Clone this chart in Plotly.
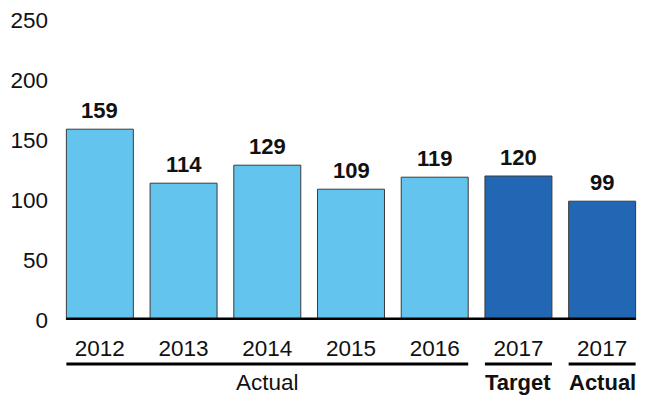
import plotly.graph_objects as go

# Chart data
years = ["2012", "2013", "2014", "2015", "2016", "2017", "2017"]
values = [159, 114, 129, 109, 119, 120, 99]
bar_colors = ["#63C4EE"] * 5 + ["#2167B3", "#2167B3"]
y_ticks = [0, 50, 100, 150, 200, 250]

# Group labels beneath the year labels: (text, first bar, last bar, bold)
groups = [("Actual", 0, 4, False), ("Target", 5, 5, True), ("Actual", 6, 6, True)]

FONT = "Liberation Sans, Arial, sans-serif"
REG = 22.5
BOLD = 22
positions = list(range(len(values)))
half = 0.4  # half bar width in category units (bargap 0.2)

fig = go.Figure(
    go.Bar(
        x=positions,
        y=values,
        marker=dict(color=bar_colors, line=dict(color="#3a3a3a", width=1)),
        width=2 * half,
        hoverinfo="skip",
    )
)

# Value labels above each bar
for xi, v in zip(positions, values):
    fig.add_annotation(
        x=xi, y=v, text=f"<b>{v}</b>", showarrow=False,
        yanchor="middle", yshift=19,
        font=dict(family=FONT, size=BOLD, color="#111111"),
    )

# Thick baseline at zero
fig.add_shape(
    type="line", xref="x", yref="y",
    x0=-half, x1=len(values) - 1 + half, y0=0, y1=0,
    line=dict(color="#000000", width=5),
)

# Group underlines and captions
for text, a, b, bold in groups:
    fig.add_shape(
        type="line", xref="x", yref="paper",
        x0=a - half, x1=b + half, y0=-0.147, y1=-0.147,
        line=dict(color="#000000", width=3),
    )
    fig.add_annotation(
        x=(a + b) / 2, y=-0.208, xref="x", yref="paper",
        text=f"<b>{text}</b>" if bold else text, showarrow=False,
        yanchor="middle",
        font=dict(family=FONT, size=BOLD if bold else REG, color="#111111"),
    )

fig.update_layout(
    width=647,
    height=398,
    margin=dict(l=58, r=3, t=20, b=78),
    paper_bgcolor="white",
    plot_bgcolor="white",
    showlegend=False,
    font=dict(family=FONT, size=REG, color="#111111"),
    xaxis=dict(
        tickmode="array",
        tickvals=positions,
        ticktext=years,
        range=[-0.5, len(values) - 0.5],
        showgrid=False,
        zeroline=False,
        showline=False,
        ticks="",
        ticklabelstandoff=12,
        tickfont=dict(family=FONT, size=REG, color="#111111"),
    ),
    yaxis=dict(
        range=[0, 250],
        tickmode="array",
        tickvals=y_ticks,
        showgrid=False,
        zeroline=False,
        showline=False,
        ticks="",
        ticklabelstandoff=9,
        tickfont=dict(family=FONT, size=REG, color="#111111"),
    ),
)

fig.write_html("out.html")
